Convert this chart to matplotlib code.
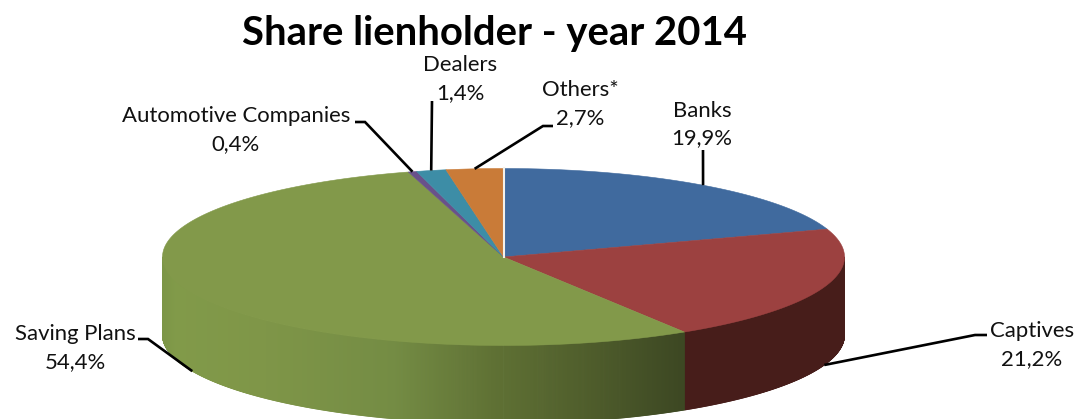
import numpy as np
import matplotlib
matplotlib.use("Agg")
import matplotlib.pyplot as plt
from matplotlib.collections import PolyCollection

TITLE = "Share lienholder - year 2014"
categories = ["Banks", "Captives", "Saving Plans", "Automotive Companies", "Dealers", "Others*"]
shares = [19.9, 21.2, 54.4, 0.4, 1.4, 2.7]
share_labels = ["19,9%", "21,2%", "54,4%", "0,4%", "1,4%", "2,7%"]
top_colors = ["#406a9e", "#9c4140", "#82994a", "#69518a", "#3d8da6", "#c97b38"]

# pie geometry in pixels
CX, CY, RX, RY, DEPTH = 503.5, 257.0, 341.0, 88.5, 78.0
W, H = 1077, 419

# label placement: (text x, text y, leader knots after the anchor)
label_pos = {
    "Banks": (702, 124.5, [(703, 150)]),
    "Captives": (1032, 345, [(975, 335), (987, 335)]),
    "Saving Plans": (75, 348, [(148, 339), (138, 339)]),
    "Automotive Companies": (236, 130, [(365, 122), (355, 122)]),
    "Dealers": (460, 79, [(432, 101)]),
    "Others*": (580, 104, [(543, 126), (553, 126)]),
}

# horizontal shading of the front wall of the green slice
wall_x = [162, 175, 260, 393, 493, 593, 680]
wall_r = [0x7c, 0x81, 0x7f, 0x74, 0x5f, 0x4e, 0x3d]
wall_g = [0x96, 0x9a, 0x96, 0x8c, 0x71, 0x5c, 0x48]
wall_b = [0x47, 0x49, 0x48, 0x44, 0x34, 0x2b, 0x23]
RED_WALL = "#471d1a"

plt.rcParams["font.family"] = ["Lato", "DejaVu Sans"]
fig = plt.figure(figsize=(W / 100, H / 100), dpi=100)
ax = fig.add_axes([0, 0, 1, 1])
ax.set_xlim(0, W)
ax.set_ylim(H, 0)
ax.axis("off")


def rim(a):
    """Point on the top ellipse; a is degrees clockwise from 12 o'clock."""
    t = np.radians(a)
    return CX + RX * np.sin(t), CY - RY * np.cos(t)


edges = np.concatenate([[0], np.cumsum(shares)]) * 3.6

# front wall, drawn from thin strips
for i, name in enumerate(categories):
    a0, a1 = max(edges[i], 90), min(edges[i + 1], 270)
    if a1 <= a0:
        continue
    aa = np.linspace(a0, a1, int((a1 - a0) * 6) + 2)
    xs, ys = rim(aa)
    polys = [
        [(xs[j], ys[j]), (xs[j + 1], ys[j + 1]),
         (xs[j + 1], ys[j + 1] + DEPTH), (xs[j], ys[j] + DEPTH)]
        for j in range(len(aa) - 1)
    ]
    if name == "Saving Plans":
        mid = 0.5 * (xs[:-1] + xs[1:])
        cols = np.column_stack([
            np.interp(mid, wall_x, wall_r),
            np.interp(mid, wall_x, wall_g),
            np.interp(mid, wall_x, wall_b),
        ]) / 255
    else:
        cols = [RED_WALL] * len(polys)
    ax.add_collection(PolyCollection(polys, facecolors=cols, edgecolors=cols, linewidths=0.6))

# top face
for i in range(len(shares)):
    aa = np.linspace(edges[i], edges[i + 1], 200)
    xs, ys = rim(aa)
    ax.fill(np.r_[CX, xs], np.r_[CY, ys], color=top_colors[i], lw=0.4, zorder=3)

# white seam at 12 o'clock
ax.plot([CX, CX], [CY, CY - RY], color="#f4f1ea", lw=1.5, zorder=4)

# leaders and labels
for i, name in enumerate(categories):
    mid = 0.5 * (edges[i] + edges[i + 1])
    ax_, ay_ = rim(mid)
    if 90 < mid < 270:
        ay_ += DEPTH
    tx, ty, knots = label_pos[name]
    px = [ax_] + [k[0] for k in knots]
    py = [ay_] + [k[1] for k in knots]
    ax.plot(px, py, color="black", lw=1.9, zorder=5, solid_capstyle="butt", solid_joinstyle="miter")
    ax.text(tx, ty, f"{name}\n{share_labels[i]}", ha="center", va="center",
            fontsize=15.9, linespacing=1.5, color="#111111", zorder=6)

ax.text(495, 34, TITLE, ha="center", va="center", fontsize=28.8, fontweight="bold", color="black", zorder=6)

fig.savefig("out.png", dpi=100)
